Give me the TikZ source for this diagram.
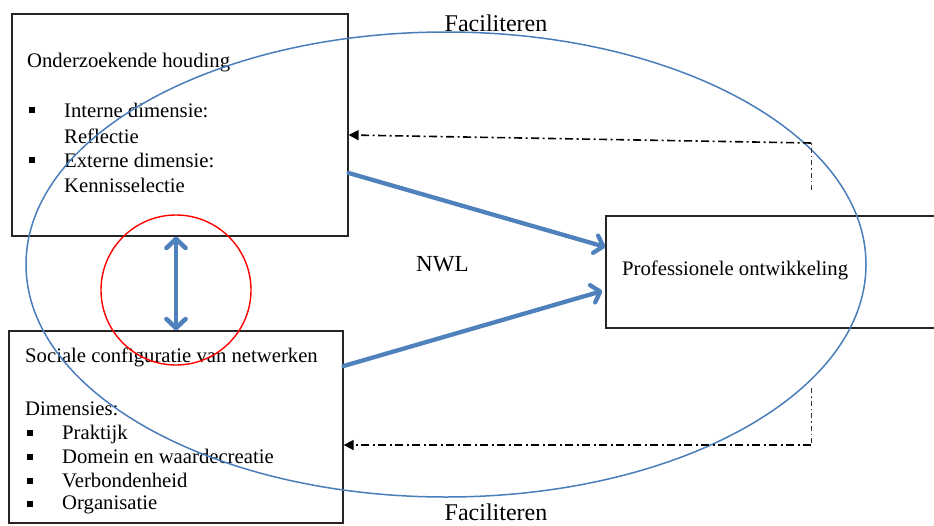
\documentclass[tikz,border=0pt]{standalone}
\usepackage{fontspec}
\setmainfont{Liberation Serif}
\usetikzlibrary{arrows.meta,calc}
\definecolor{obl}{HTML}{4F81BD}
\definecolor{ell}{HTML}{4A7EBB}
\begin{document}
\begin{tikzpicture}[x=1pt,y=-1pt,
  box/.style={draw=black!85,line width=1.3pt,rectangle,inner sep=0pt},
  txt/.style={inner sep=0pt,anchor=base west,font=\fontsize{20.7}{24}\selectfont},
  big/.style={inner sep=0pt,anchor=base,font=\fontsize{24}{28}\selectfont},
  bul/.style={fill=black,inner sep=0pt,minimum size=6pt,rectangle},
  flow/.style={draw=obl,line width=4.3pt,line cap=round,-{Straight Barb[length=8pt,width=18pt,round]}},
  dual/.style={draw=obl,line width=4.6pt,{Straight Barb[length=9pt,width=19pt,round]}-{Straight Barb[length=9pt,width=19pt,round]}},
  fb/.style={draw=black,line width=1.6pt,dash pattern=on 8pt off 3.5pt on 2pt off 3.5pt,-{Triangle[length=10pt,width=10pt]}},
  fbv/.style={draw=black!80,line width=1pt,dash pattern=on 5pt off 3pt on 1.5pt off 3pt}]
\useasboundingbox (0,0) rectangle (934,525);
\clip (0,0) rectangle (934,525);
\fill[white] (0,0) rectangle (934,525);

% boxes
\node[box,minimum width=336pt,minimum height=222pt] (tl) at (180,125) {};
\node[box,minimum width=334pt,minimum height=192pt] (bl) at (176,427) {};
\node[box,minimum width=360pt,minimum height=112pt] (pr) at (786,272) {};

% top-left texts
\node[txt] (t1) at (27,67) {Onderzoekende houding};
\node[bul] (b1) at (32,110) {};
\node[txt] (t2) at (64,117) {Interne dimensie:};
\node[txt] (t3) at (64,143) {Reflectie};
\node[bul] (b2) at (32,160) {};
\node[txt] (t4) at (64,167) {Externe dimensie:};
\node[txt] (t5) at (64,192) {Kennisselectie};

% bottom-left texts
\node[txt] (s1) at (25,362) {Sociale configuratie van netwerken};
\node[txt] (s2) at (25,415) {Dimensies:};
\node[bul] (c1) at (29.5,433) {};
\node[txt] (s3) at (62,439) {Praktijk};
\node[bul] (c2) at (29.5,457) {};
\node[txt] (s4) at (62,463) {Domein en waardecreatie};
\node[bul] (c3) at (29.5,481) {};
\node[txt] (s5) at (62,487) {Verbondenheid};
\node[bul] (c4) at (29.5,504) {};
\node[txt] (s6) at (62,509) {Organisatie};

% right box text
\node[txt] (p1) at (622,275) {Professionele ontwikkeling};

% other labels
\node[big] (f1) at (496,31.5) {Faciliteren};
\node[big] (f2) at (496,520) {Faciliteren};
\node[inner sep=0pt,anchor=base west,font=\fontsize{23}{27}\selectfont] (nwl) at (416,271) {NWL};

% ellipse and circle
\draw[ell,line width=1.5pt] (446,264.5) ellipse [x radius=420pt, y radius=232.5pt];
\draw[red,line width=1.4pt] (176,290) circle [radius=75pt];

% blue arrows
\draw[flow] (tl.east |- 0,173) -- (pr.west |- 0,247);
\draw[flow] (bl.east |- 0,366) -- ($(pr.west |- 0,291)+(-3,0)$);
\draw[dual] (tl.south -| 176,0) -- (bl.north -| 176,0);

% feedback connectors
\coordinate (k1) at (811,190);
\coordinate (k2) at (811,143);
\coordinate (k3) at (811,388);
\coordinate (k4) at (811,445);
\draw[fbv] (k1) -- (k2);
\draw[fb] (k2) -- (tl.east |- 0,135);
\draw[fbv] (k3) -- (k4);
\draw[fb] (k4) -- (bl.east |- 0,445);
\end{tikzpicture}
\end{document}
